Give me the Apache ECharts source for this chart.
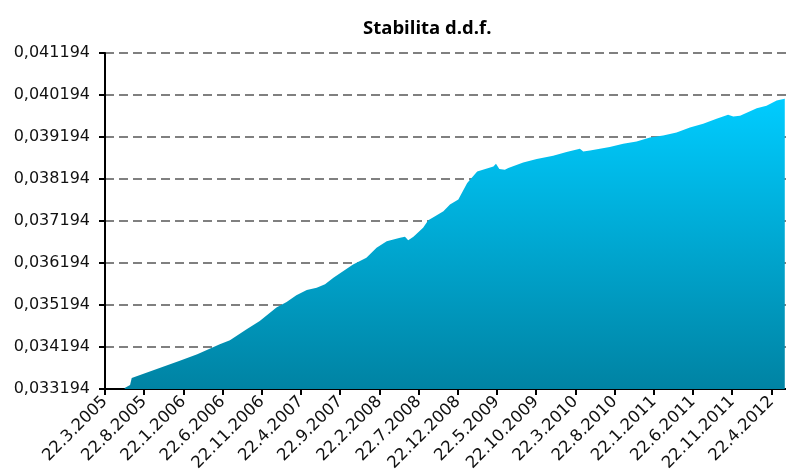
<!DOCTYPE html>
<html>
<head>
<meta charset="utf-8">
<script src="https://cdn.jsdelivr.net/npm/echarts@6/dist/echarts.min.js"></script>
<style>html,body{margin:0;padding:0;background:#fff}#c{width:786px;height:474px}</style>
</head>
<body>
<div id="c"></div>
<script>
// Title
const chartTitle = 'Stabilita d.d.f.';

// X tick labels (every 5 months)
const xTickLabels = ['22.3.2005','22.8.2005','22.1.2006','22.6.2006','22.11.2006','22.4.2007','22.9.2007','22.2.2008','22.7.2008','22.12.2008','22.5.2009','22.10.2009','22.3.2010','22.8.2010','22.1.2011','22.6.2011','22.11.2011','22.4.2012'];

// Y tick labels
const yTickLabels = ['0,033194','0,034194','0,035194','0,036194','0,037194','0,038194','0,039194','0,040194','0,041194'];
const yMin = 0.033194;
const yMax = 0.041194;

// Series: dates and values
const dates = ['7.6.2005','28.6.2005','4.7.2005','10.10.2005','8.1.2006','15.3.2006','11.6.2006','20.7.2006','24.9.2006','14.11.2006','18.1.2007','27.2.2007','4.4.2007','14.5.2007','22.6.2007','24.7.2007','26.8.2007','11.11.2007','2.1.2008','11.2.2008','20.3.2008','11.5.2008','30.5.2008','12.6.2008','2.7.2008','9.8.2008','29.8.2008','25.9.2008','27.10.2008','22.11.2008','24.12.2008','28.1.2009','6.3.2009','8.5.2009','18.5.2009','31.5.2009','22.6.2009','5.7.2009','2.9.2009','24.10.2009','27.12.2009','18.2.2010','9.4.2010','22.4.2010','18.5.2010','3.8.2010','25.9.2010','16.11.2010','7.1.2011','28.2.2011','19.4.2011','10.6.2011','31.7.2011','22.9.2011','6.11.2011','26.11.2011','22.12.2011','26.2.2012','3.4.2012','12.5.2012','13.6.2012'];
const values = [0.033218,0.033289,0.033455,0.033669,0.033866,0.034025,0.034262,0.034357,0.034618,0.034815,0.035134,0.035266,0.035425,0.035551,0.035608,0.035687,0.035846,0.036162,0.036320,0.036558,0.036714,0.036795,0.036819,0.036738,0.036819,0.037033,0.037213,0.037308,0.037427,0.037586,0.037704,0.038101,0.038376,0.038495,0.038559,0.038433,0.038416,0.038457,0.038590,0.038671,0.038749,0.038837,0.038915,0.038851,0.038875,0.038956,0.039034,0.039089,0.039184,0.039231,0.039302,0.039421,0.039509,0.039627,0.039722,0.039682,0.039698,0.039881,0.039936,0.040062,0.040102];

// months elapsed since 22.3.2005
function monthsFromStart(s) {
  const p = s.split('.').map(Number);
  return (p[2] - 2005) * 12 + (p[1] - 3) + (p[0] - 22) / 30.4;
}
const seriesData = dates.map((d, i) => [monthsFromStart(d), Math.round((values[i] - yMin) * 1e6)]);

const chart = echarts.init(document.getElementById('c'), null, {renderer: 'canvas'});
chart.setOption({
  animation: false,
  backgroundColor: '#ffffff',
  title: {
    text: chartTitle,
    left: 358,
    top: 14,
    textStyle: {fontFamily: 'Open Sans', fontWeight: 'bold', fontSize: 18.5, color: '#000'}
  },
  grid: {left: 105, right: 0, top: 53, bottom: 84, containLabel: false},
  xAxis: {
    type: 'value',
    min: 0,
    max: 86.86,
    interval: 5,
    axisLine: {show: true, onZero: false, lineStyle: {color: '#000', width: 2}},
    axisTick: {show: true, length: 6, lineStyle: {color: '#000', width: 2}},
    splitLine: {show: false},
    axisLabel: {
      rotate: 45,
      margin: 10,
      fontFamily: 'DejaVu Sans',
      fontSize: 16.5,
      color: '#111',
      showMaxLabel: false,
      formatter: function (v) {
        const k = Math.round(v / 5);
        return Math.abs(v - k * 5) < 1e-6 && xTickLabels[k] ? xTickLabels[k] : '';
      }
    }
  },
  yAxis: {
    type: 'value',
    min: 0,
    max: Math.round((yMax - yMin) * 1e6),
    interval: 1000,
    axisLine: {show: true, lineStyle: {color: '#000', width: 2}},
    axisTick: {show: true, length: 6, lineStyle: {color: '#000', width: 2}},
    splitLine: {show: true, lineStyle: {color: '#808080', width: 2, type: [9, 5]}},
    axisLabel: {
      margin: 15,
      fontFamily: 'DejaVu Sans',
      fontSize: 16,
      color: '#111',
      formatter: function (v) { return yTickLabels[Math.round(v / 1000)] || ''; }
    }
  },
  series: [{
    type: 'line',
    data: seriesData,
    showSymbol: false,
    symbol: 'none',
    lineStyle: {width: 0},
    areaStyle: {
      opacity: 1,
      color: new echarts.graphic.LinearGradient(0, 0, 0, 1, [
        {offset: 0, color: '#00CCFF'},
        {offset: 1, color: '#0083A3'}
      ])
    },
    z: 1
  }]
});
</script>
</body>
</html>
